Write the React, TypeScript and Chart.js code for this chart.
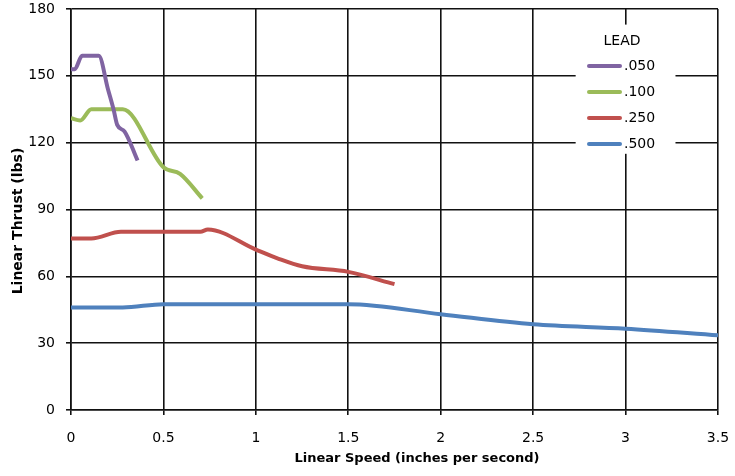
import React, { useEffect, useRef } from "react";
import { Chart, registerables } from "chart.js";

Chart.register(...registerables);

const seriesLabels = [".050", ".100", ".250", ".500"];
const seriesColors = ["#8064A2", "#9BBB59", "#C0504D", "#4F81BD"];

const lead050X = [0, 0.02, 0.06, 0.15, 0.2, 0.23, 0.25, 0.29, 0.36];
const lead050Y = [153, 153, 159, 159, 144, 135, 128, 125, 112];

const lead100X = [0, 0.05, 0.11, 0.28, 0.5, 0.59, 0.71];
const lead100Y = [131, 130, 135, 135, 109, 106, 95];

const lead250X = [0, 0.11, 0.27, 0.7, 0.74, 1.0, 1.12, 1.25, 1.5, 1.75];
const lead250Y = [77, 77, 80, 80, 81, 72, 68, 64.5, 62, 56.5];

const lead500X = [0, 0.28, 0.5, 1.5, 2.0, 2.5, 3.0, 3.5];
const lead500Y = [46, 46, 47.5, 47.5, 43, 38.5, 36.5, 33.5];

const legendTitle = "LEAD";
const xTitle = "Linear Speed (inches per second)";
const yTitle = "Linear Thrust (lbs)";

const zip = (xs: number[], ys: number[]) => xs.map((x, i) => ({ x, y: ys[i] }));

export default function App() {
  const ref = useRef<HTMLCanvasElement | null>(null);
  useEffect(() => {
    document.body.style.margin = "0";
    const ctx = ref.current!.getContext("2d")!;
    const seriesData = [
      zip(lead050X, lead050Y),
      zip(lead100X, lead100Y),
      zip(lead250X, lead250Y),
      zip(lead500X, lead500Y),
    ];
    const decorPlugin = {
      id: "decor",
      afterDraw(chart: any) {
        const c = chart.ctx;
        const xs = chart.scales.x;
        const ys = chart.scales.y;
        c.save();
        // legend box
        c.fillStyle = "#ffffff";
        const bx = xs.getPixelForValue(2.73);
        const bxr = xs.getPixelForValue(3.27);
        const by = ys.getPixelForValue(173);
        const byb = ys.getPixelForValue(115);
        c.fillRect(bx, by, bxr - bx, byb - by);
        c.fillStyle = "#000";
        c.font = "14px 'DejaVu Sans'";
        c.textBaseline = "middle";
        c.textAlign = "center";
        c.fillText(legendTitle, 622, 41);
        c.textAlign = "left";
        seriesLabels.forEach((lab, i) => {
          const y = 66 + i * 26;
          c.strokeStyle = seriesColors[i];
          c.lineWidth = 4;
          c.lineCap = "round";
          c.beginPath();
          c.moveTo(589, y);
          c.lineTo(620, y);
          c.stroke();
          c.fillText(lab, 624, y);
        });
        // axis titles
        c.font = "bold 13px 'DejaVu Sans'";
        c.textAlign = "center";
        c.fillText(xTitle, 417, 459);
        c.translate(18, 221);
        c.rotate(-Math.PI / 2);
        c.font = "bold 14px 'DejaVu Sans'";
        c.fillText(yTitle, 0, 0);
        c.restore();
      },
    };
    const chart = new Chart(ctx, {
      type: "line",
      data: {
        datasets: seriesLabels.map((lab, i) => ({
          label: lab,
          data: seriesData[i],
          borderColor: seriesColors[i],
          backgroundColor: seriesColors[i],
          borderWidth: 4,
          pointRadius: 0,
          tension: 0.3,
          cubicInterpolationMode: "monotone" as const,
          fill: false,
        })),
      },
      options: {
        animation: false,
        responsive: false,
        layout: { padding: { top: 9, right: 17, left: 0, bottom: 0 } },
        plugins: { legend: { display: false }, tooltip: { enabled: false } },
        scales: {
          x: {
            type: "linear",
            min: 0,
            max: 3.5,
            ticks: {
              stepSize: 0.5,
              color: "#000",
              font: { family: "'DejaVu Sans'", size: 14 },
              padding: 15,
              callback: (v: any) => String(Number(v)),
            },
            grid: { color: "#111", lineWidth: 1.6, tickLength: 5, tickColor: "#111" },
            border: { color: "#111", width: 1.6 },
            afterFit(scale: any) {
              scale.height = 66;
              scale.paddingLeft = 0;
              scale.paddingRight = 0;
            },
          },
          y: {
            min: 0,
            max: 180,
            ticks: { stepSize: 30, color: "#000", font: { family: "'DejaVu Sans'", size: 14 }, padding: 11 },
            grid: { color: "#111", lineWidth: 1.6, tickLength: 5, tickColor: "#111" },
            border: { color: "#111", width: 1.6 },
            afterFit(scale: any) {
              scale.width = 71;
              scale.paddingTop = 0;
              scale.paddingBottom = 0;
            },
          },
        },
      },
      plugins: [decorPlugin],
    });
    return () => chart.destroy();
  }, []);
  return (
    <div style={{ position: "absolute", left: 0, top: 0, width: 735, height: 476, background: "#fff" }}>
      <canvas ref={ref} width={735} height={476} style={{ width: 735, height: 476 }} />
    </div>
  );
}
